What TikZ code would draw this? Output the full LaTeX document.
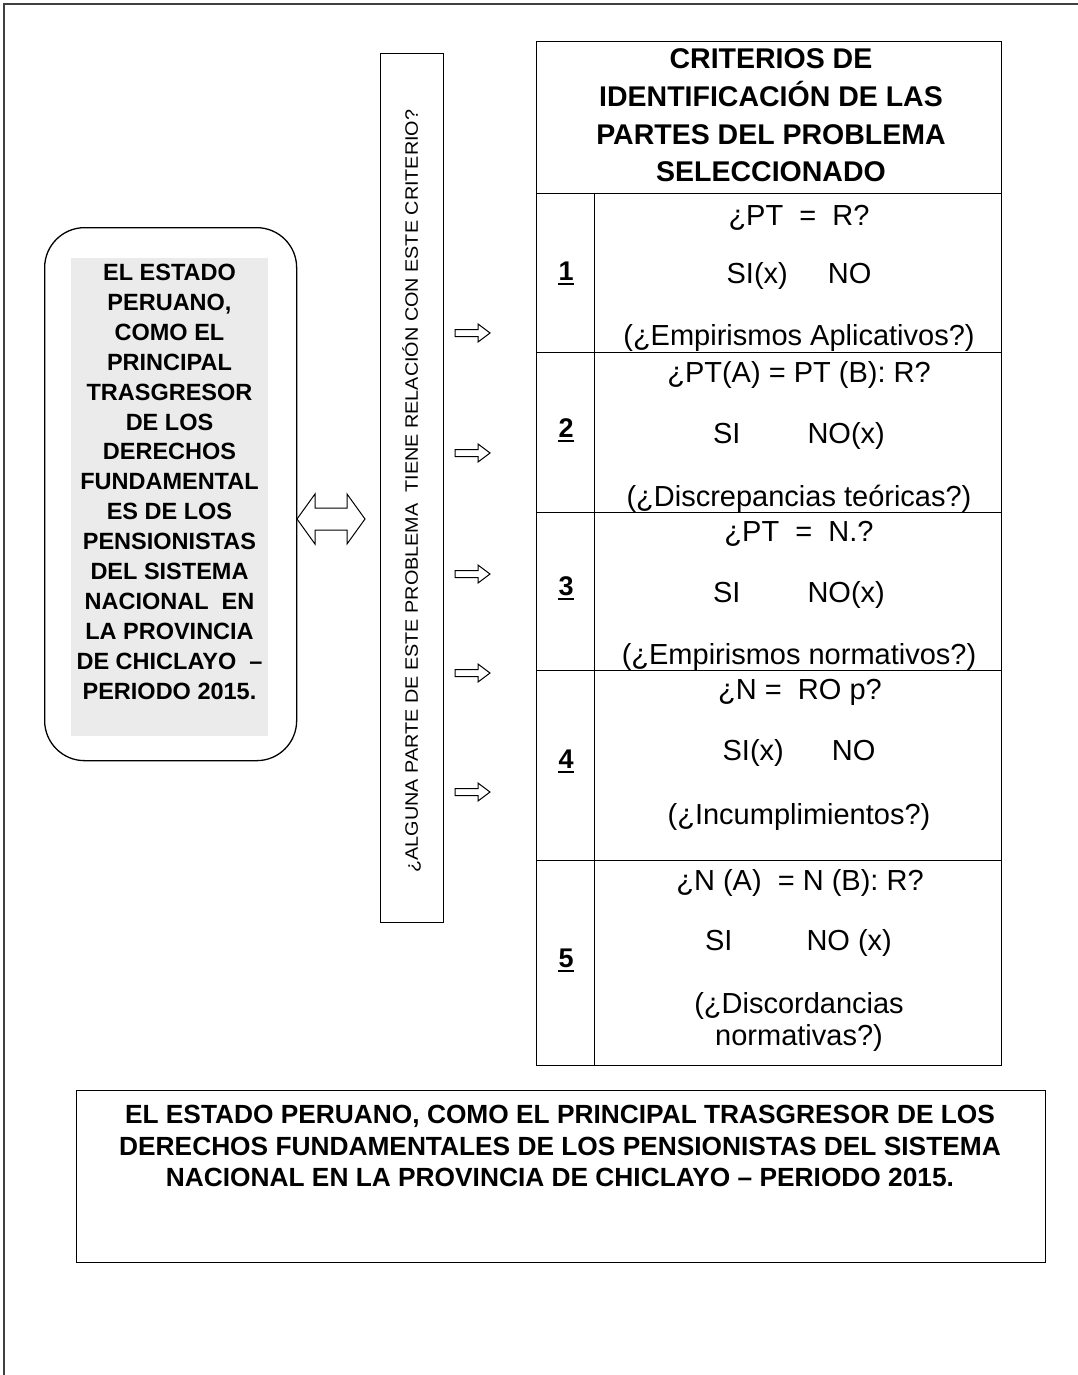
\documentclass[tikz,border=0pt]{standalone}
\usepackage{fontspec}
\setmainfont{Liberation Sans}
\usetikzlibrary{calc}
\definecolor{shade}{HTML}{EBEBEB}
\begin{document}
\begin{tikzpicture}[x=1pt,y=-1pt,
  box/.style={draw=black, line width=1.3pt},
  cellbox/.style={box, anchor=north west, inner sep=0pt},
  rowtxt/.style={anchor=base, inner sep=0pt, font=\fontsize{29}{34}\selectfont},
  numtxt/.style={anchor=base, inner sep=0pt, font=\bfseries\fontsize{27}{32}\selectfont},
  hdrtxt/.style={anchor=base, inner sep=0pt, font=\bfseries\fontsize{28.5}{34}\selectfont},
  lefttxt/.style={anchor=base, inner sep=0pt, font=\bfseries\fontsize{23.5}{28}\selectfont},
  bottxt/.style={anchor=base, inner sep=0pt, font=\bfseries\fontsize{26.3}{30}\selectfont},
  blockarrow/.style={draw=black, line width=1pt, fill=white, line join=miter},
  uline/.style={line width=2.4pt}
]
\useasboundingbox (0,0) rectangle (1078,1375);
% outer frame
\draw[line width=1.6pt, black!75] (4,1375) -- (4,4) -- (1078,4);

% left rounded box
\node (lbox) [box, anchor=north west, rounded corners=40pt, minimum width=252pt, minimum height=533pt] at (44,227) {};
\node (gbox) [fill=shade, anchor=north west, inner sep=0pt, minimum width=197pt, minimum height=478pt] at (71,258) {};
\foreach \t [count=\i from 0] in {EL ESTADO, {PERUANO,}, COMO EL, PRINCIPAL, TRASGRESOR, DE LOS, DERECHOS, FUNDAMENTAL, ES DE LOS, PENSIONISTAS, DEL SISTEMA, NACIONAL\ \ EN, LA PROVINCIA, DE CHICLAYO\ \ –, PERIODO 2015.}
  \node (lt\i) [lefttxt] at (169.5,280.4+29.93*\i) {\t};

% double arrow
\draw[blockarrow] (297,519) -- (315,494) -- (315,508) -- (347,508) -- (347,494) -- (365,519)
  -- (347,544) -- (347,530) -- (315,530) -- (315,544) -- cycle;

% vertical box
\node (vbox) [box, anchor=north west, minimum width=63pt, minimum height=869pt] at (380,53) {};
\node (vtxt) [rotate=90, inner sep=0pt, font=\fontsize{18}{22}\selectfont] at (411.5,491)
  {\scalebox{1.1}[1]{¿ALGUNA PARTE DE ESTE PROBLEMA\ \ TIENE RELACIÓN CON ESTE CRITERIO?}};

% small block arrows
\foreach \y in {333,453,574,673,792}
  \draw[blockarrow] (455,\y-3.5) -- (478,\y-3.5) -- (478,\y-9) -- (490,\y) -- (478,\y+9)
    -- (478,\y+3.5) -- (455,\y+3.5) -- cycle;

% table
\node (hdr) [cellbox, minimum width=465pt, minimum height=152pt] at (536,41) {};
\node (n1) [cellbox, minimum width=58pt, minimum height=159pt] at (536,193) {};
\node (c1) [cellbox, minimum width=407pt, minimum height=159pt] at (594,193) {};
\node (n2) [cellbox, minimum width=58pt, minimum height=160pt] at (536,352) {};
\node (c2) [cellbox, minimum width=407pt, minimum height=160pt] at (594,352) {};
\node (n3) [cellbox, minimum width=58pt, minimum height=158pt] at (536,512) {};
\node (c3) [cellbox, minimum width=407pt, minimum height=158pt] at (594,512) {};
\node (n4) [cellbox, minimum width=58pt, minimum height=190pt] at (536,670) {};
\node (c4) [cellbox, minimum width=407pt, minimum height=190pt] at (594,670) {};
\node (n5) [cellbox, minimum width=58pt, minimum height=205pt] at (536,860) {};
\node (c5) [cellbox, minimum width=407pt, minimum height=205pt] at (594,860) {};

% header text
\node (h1) [hdrtxt] at (771,68.2) {CRITERIOS DE};
\node (h2) [hdrtxt] at (771,106.7) {IDENTIFICACIÓN DE LAS};
\node (h3) [hdrtxt] at (771,144.2) {PARTES DEL PROBLEMA};
\node (h4) [hdrtxt] at (771,181.2) {SELECCIONADO};

% numbers
\foreach \n/\yb in {1/280, 2/437, 3/595, 4/768, 5/967} {
  \node (num\n) [numtxt] at (566,\yb) {\n};
  \draw[uline] ($(num\n.base west)+(0,4)$) -- ($(num\n.base east)+(0,4)$);
}

% row 1
\node (r1a) [rowtxt] at (799,225) {¿PT\ \ =\ \ R?};
\node (r1b) [rowtxt] at (799,283.5) {SI(x)\hspace{40pt}NO};
\node (r1c) [rowtxt] at (799,345.5) {(¿Empirismos Aplicativos?)};
% row 2
\node (r2a) [rowtxt] at (799,382) {¿PT(A) = PT (B): R?};
\node (r2b) [rowtxt] at (799,443.5) {SI\hspace{67pt}NO(x)};
\node (r2c) [rowtxt] at (799,506) {(¿Discrepancias teóricas?)};
% row 3
\node (r3a) [rowtxt] at (799,541) {¿PT\ \ =\ \ N.?};
\node (r3b) [rowtxt] at (799,602) {SI\hspace{67pt}NO(x)};
\node (r3c) [rowtxt] at (799,664.5) {(¿Empirismos normativos?)};
% row 4
\node (r4a) [rowtxt] at (800,699.5) {¿N =\ \ RO p?};
\node (r4b) [rowtxt] at (799,760.5) {SI(x)\hspace{48pt}NO};
\node (r4c) [rowtxt] at (799,824.5) {(¿Incumplimientos?)};
% row 5
\node (r5a) [rowtxt] at (800,890) {¿N (A)\ \ = N (B): R?};
\node (r5b) [rowtxt] at (798.5,950.5) {SI\hspace{74pt}NO (x)};
\node (r5c) [rowtxt] at (799,1013) {(¿Discordancias};
\node (r5d) [rowtxt] at (799,1045) {normativas?)};

% bottom box
\node (bbox) [box, anchor=north west, minimum width=969pt, minimum height=172pt] at (76,1090) {};
\node (b1) [bottxt] at (560,1123.5) {EL ESTADO PERUANO, COMO EL PRINCIPAL TRASGRESOR DE LOS};
\node (b2) [bottxt] at (560,1155.5) {DERECHOS FUNDAMENTALES DE LOS PENSIONISTAS DEL SISTEMA};
\node (b3) [bottxt] at (560,1186.5) {NACIONAL EN LA PROVINCIA DE CHICLAYO – PERIODO 2015.};
\end{tikzpicture}
\end{document}
